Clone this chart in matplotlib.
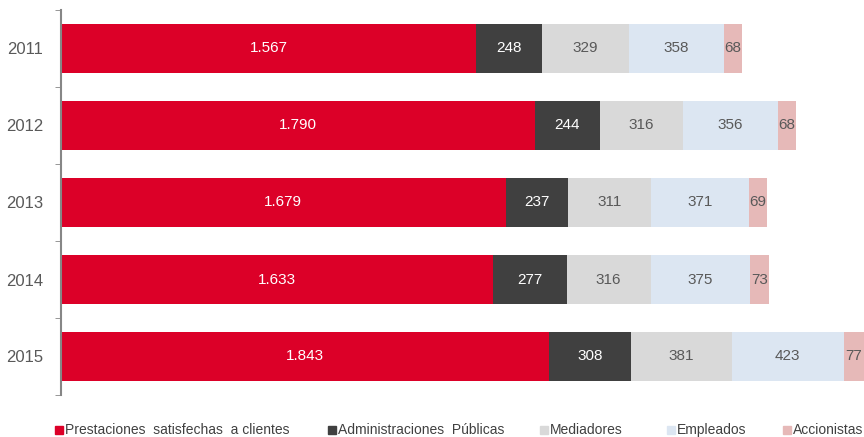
import matplotlib
matplotlib.use("Agg")
import matplotlib.pyplot as plt
from matplotlib.patches import Rectangle

years = ["2011", "2012", "2013", "2014", "2015"]
series = ["Prestaciones  satisfechas  a clientes", "Administraciones  Públicas",
          "Mediadores", "Empleados", "Accionistas"]
prestaciones = [1567, 1790, 1679, 1633, 1843]
administraciones = [248, 244, 237, 277, 308]
mediadores = [329, 316, 311, 316, 381]
empleados = [358, 356, 371, 375, 423]
accionistas = [68, 68, 69, 73, 77]

colors = ["#DC0028", "#404040", "#D9D9D9", "#DCE6F2", "#E6B9B8"]
label_colors = ["white", "white", "#595959", "#595959", "#595959"]


def fmt(v):
    return f"{v:,}".replace(",", ".")


plt.rcParams["font.family"] = ["Liberation Sans", "DejaVu Sans"]

fig = plt.figure(figsize=(8.64, 4.37), dpi=100)
ax = fig.add_axes([61 / 864, 42 / 437, 1 - 61 / 864, 385 / 437])

data = [prestaciones, administraciones, mediadores, empleados, accionistas]
ypos = list(range(len(years)))
left = [0] * len(years)
for vals, col, tcol in zip(data, colors, label_colors):
    bars = ax.barh(ypos, vals, left=left, height=0.64, color=col)
    for b, v in zip(bars, vals):
        ax.text(b.get_x() + b.get_width() / 2, b.get_y() + b.get_height() / 2,
                fmt(v), ha="center", va="center", color=tcol, fontsize=11)
    left = [l + v for l, v in zip(left, vals)]

ax.set_xlim(0, 3032)
ax.set_ylim(4.5, -0.5)
ax.set_yticks(ypos)
ax.set_yticklabels(years, fontsize=12, color="#595959")
ax.set_yticks([i - 0.5 for i in range(len(years) + 1)], minor=True)
ax.tick_params(axis="y", which="major", length=0, pad=13)
ax.tick_params(axis="y", which="minor", length=4, color="#868686", direction="out")
ax.set_xticks([])
for s in ["top", "right", "bottom"]:
    ax.spines[s].set_visible(False)
ax.spines["left"].set_color("#868686")
ax.spines["left"].set_linewidth(1.5)

# legend drawn as squares + text along the bottom
leg_x = [55, 328, 540, 667, 783]
for x, name, col in zip(leg_x, series, colors):
    fig.patches.append(Rectangle((x / 864, 3 / 437), 8 / 864, 8 / 437,
                                 transform=fig.transFigure, color=col))
    fig.text((x + 10) / 864, 7 / 437, name, fontsize=10, color="#404040",
             va="center", ha="left")

fig.savefig("out.png", dpi=100)
